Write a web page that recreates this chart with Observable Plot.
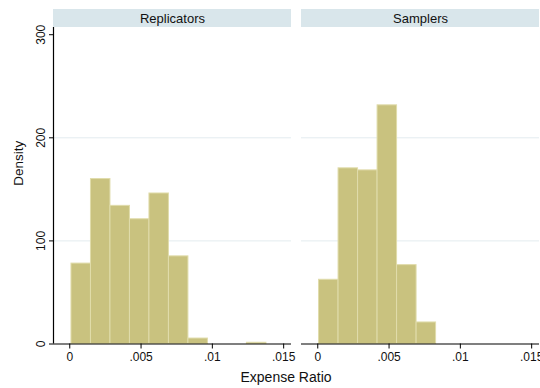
<!DOCTYPE html>
<html>
<head>
<meta charset="utf-8">
<script src="https://cdn.jsdelivr.net/npm/d3@7"></script>
<script src="https://cdn.jsdelivr.net/npm/@observablehq/plot@0.6"></script>
<style>
  html, body { margin: 0; padding: 0; background: #fff; }
  #wrap { position: relative; width: 540px; height: 388px; font-family: "Liberation Sans", Arial, sans-serif; }
  #xlabel { position: absolute; left: 0; width: 572px; top: 369px; text-align: center; font-size: 14px; color: #111; }
</style>
</head>
<body>
<div id="wrap"><div id="xlabel">Expense Ratio</div></div>
<script>
// Panels (facets)
const panels = ["Replicators", "Samplers"];

// Histogram bins: start of first bin, bin width, densities per bin
const repStart = 0.00012;
const repWidth = 0.001367;
const repDensity = [78, 160, 134, 121, 146, 85, 5.3, 0, 0, 1.2];

const samStart = 0.00009;
const samWidth = 0.001368;
const samDensity = [62.3, 170.4, 168.4, 231.5, 76.5, 20.9];

// Axis ticks
const xTicks = [0, 0.005, 0.01, 0.015];
const yTicks = [0, 100, 200, 300];
const yGrid = [100, 200];

// Scale domains
const xDomain = [-0.00114, 0.01555];
const yDomain = [0, 307];

// Build the bar table from the arrays
const rows = [];
repDensity.forEach((d, i) => rows.push({panel: "Replicators", x1: repStart + i * repWidth, x2: repStart + (i + 1) * repWidth, density: d}));
samDensity.forEach((d, i) => rows.push({panel: "Samplers", x1: samStart + i * samWidth, x2: samStart + (i + 1) * samWidth, density: d}));

const fmt = d => d === 0 ? "0" : String(d).replace(/^0/, "");

const W = 540, H = 388, mTop = 27, mBottom = 44.5;
const headerPx = 18;
const headerUnits = headerPx * (yDomain[1] - yDomain[0]) / (H - mTop - mBottom);

const chart = Plot.plot({
  width: W,
  height: H,
  marginLeft: 53.3,
  marginRight: 0,
  marginTop: mTop,
  marginBottom: mBottom,
  style: {fontFamily: '"Liberation Sans", Arial, sans-serif', fontSize: "12px", color: "#111", background: "#fff"},
  fx: {domain: panels, paddingInner: 0.039, paddingOuter: 0, axis: null, label: null},
  x: {domain: xDomain, axis: null},
  y: {domain: yDomain, axis: null},
  marks: [
    // facet header strips
    Plot.rect(panels, {fx: d => d, y1: yDomain[1], y2: yDomain[1] + headerUnits, fill: "#d9e6eb"}),
    Plot.text(panels, {fx: d => d, text: d => d, frameAnchor: "top", dy: -9, lineAnchor: "middle", fontSize: 13, fill: "#111"}),
    // grid
    Plot.gridY(yGrid, {stroke: "#e3ecef", strokeOpacity: 1, strokeWidth: 1}),
    // bars
    Plot.rectY(rows, {fx: "panel", x1: "x1", x2: "x2", y: "density", fill: "#c9c27f", stroke: "#e0dcab", strokeWidth: 1}),
    // axes
    Plot.ruleY([0], {stroke: "#000", strokeWidth: 1.2}),
    Plot.ruleX([xDomain[0]], {fx: () => "Replicators", y1: yDomain[0], y2: yDomain[1], stroke: "#000", strokeWidth: 1.2}),
    Plot.axisX({ticks: xTicks, tickFormat: fmt, tickSize: 5, tickPadding: 3, label: null, stroke: "#000", fontSize: 12}),
    Plot.axisY({ticks: yTicks, tickSize: 4, tickRotate: -90, label: null, stroke: "#000", fontSize: 12}),
    Plot.text(["Density"], {fx: () => "Replicators", text: d => d, frameAnchor: "left", dx: -35, rotate: -90, fontSize: 13.5, fill: "#111"})
  ]
});
document.getElementById("wrap").prepend(chart);
</script>
</body>
</html>
